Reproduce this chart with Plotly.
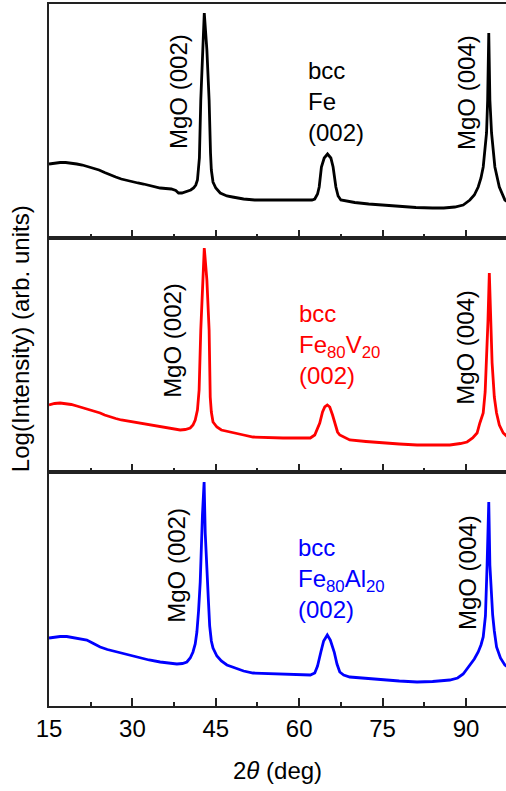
import plotly.graph_objects as go
from plotly.subplots import make_subplots

# 2theta scans (deg) and log-intensity (arb. units, offset per panel)
fe_2theta = [15.0, 16.0, 17.0, 18.0, 19.0, 20.0, 21.0, 22.0, 23.0, 24.0, 25.0, 26.0, 27.0, 28.0,
             29.0, 30.0, 31.0, 32.0, 33.0, 34.0, 35.0, 36.0, 37.0, 37.8, 38.3, 38.9, 39.5, 40.0,
             40.5, 41.0, 41.4, 41.7, 41.9, 42.05, 42.3, 42.7, 42.93, 43.4, 43.8, 44.05, 44.2,
             44.5, 45.0, 45.8, 47.0, 48.0, 50.0, 52.0, 55.0, 58.0, 61.0, 62.3, 62.8, 63.3, 63.6,
             64.0, 64.5, 65.1, 65.7, 66.1, 66.6, 67.0, 67.5, 68.5, 70.0, 72.5, 75.0, 78.0, 81.0,
             84.0, 86.0, 88.0, 89.5, 90.7, 91.5, 92.2, 92.7, 93.1, 93.45, 93.7, 93.9, 94.1, 94.3,
             94.6, 95.2, 96.0, 97.0, 97.5]
fe_int = [74, 75, 75.5, 75.5, 75, 74, 73, 71.5, 70, 68, 65.5, 63, 61, 59,
          57.5, 56, 55, 54, 52.5, 51, 50, 49.5, 49, 47.5, 45, 45, 46, 47,
          48, 50, 53, 58, 68, 80, 138, 188, 225, 188, 138, 85, 68,
          56, 50, 45, 42, 41, 39, 38, 38, 37.5, 38, 38, 39, 44, 51,
          71, 80, 84, 80, 71, 51, 42, 38, 37, 35.5, 34, 33, 31.5, 30.5,
          30, 30, 31, 33, 38, 43, 51, 60, 71, 90, 105, 138, 205, 138,
          105, 71, 51, 38, 36]

fev_2theta = [15.0, 16.0, 17.0, 18.0, 19.0, 20.0, 21.0, 22.0, 23.0, 24.2, 25.0, 26.0, 27.0,
              28.0, 29.0, 30.0, 31.4, 33.0, 35.0, 37.0, 38.6, 39.5, 40.4, 40.9, 41.3, 41.7,
              42.0, 42.3, 42.7, 42.93, 43.4, 43.8, 44.0, 44.2, 44.5, 45.2, 46.0, 48.1, 50.0,
              51.7, 54.0, 57.1, 60.0, 62.0, 62.8, 63.2, 63.7, 64.2, 64.6, 65.06, 65.5, 66.0,
              66.4, 66.9, 67.3, 68.0, 69.1, 72.0, 75.1, 78.0, 81.2, 84.0, 87.1, 89.0, 90.2,
              91.2, 92.0, 92.5, 93.1, 93.45, 93.7, 93.95, 94.2, 94.45, 94.7, 95.1, 95.5, 96.0,
              96.7, 97.5]
fev_int = [67, 68.5, 69, 68.5, 67.5, 66, 64.5, 62.5, 61, 59, 57, 55, 53.5,
           52, 51, 50, 49, 47.5, 45, 43.5, 42, 42.5, 44, 47, 52, 62,
           82, 142, 192, 224, 192, 142, 75, 60, 50, 45, 42, 39, 37,
           35, 34.5, 34, 34, 34, 37, 42, 49, 60, 65, 67, 65, 57,
           49, 40, 37, 35, 32, 30.5, 29, 28, 27, 27, 27, 28.5, 30,
           34, 39, 49, 59, 80, 109, 150, 199, 150, 109, 75, 59, 47,
           39, 35]

feal_2theta = [15.0, 16.0, 17.0, 18.2, 19.5, 20.5, 21.8, 23.0, 24.2, 25.5, 27.0, 27.8, 29.5,
               31.4, 33.0, 35.0, 36.5, 38.0, 39.0, 39.8, 40.4, 40.9, 41.3, 41.6, 41.9, 42.2,
               42.6, 42.9, 43.1, 43.4, 43.65, 43.9, 44.2, 44.5, 45.2, 46.0, 47.0, 48.5, 50.0,
               51.7, 54.0, 57.1, 60.0, 62.0, 62.8, 63.3, 63.9, 64.4, 65.06, 65.6, 66.3, 66.8,
               67.3, 68.0, 69.1, 72.0, 75.1, 78.0, 81.2, 84.0, 87.1, 88.5, 89.5, 90.7, 91.5,
               92.2, 92.7, 93.1, 93.5, 93.8, 94.1, 94.3, 94.55, 94.8, 95.1, 95.5, 96.2, 97.0,
               97.5]
feal_int = [68, 69, 69.5, 69.5, 68.5, 67.5, 66, 62.5, 59, 56.5, 54.5, 53, 50.5,
            48, 46, 44, 43, 42, 42.5, 44, 48, 54, 62, 74, 95, 124,
            191, 224, 173, 130, 108, 80, 65, 58, 50, 45, 41, 38, 35,
            33, 32.5, 32, 31.5, 31, 33, 40, 54, 65, 71, 66, 54, 42,
            34, 31, 29, 27.5, 26, 25, 24, 24.5, 26, 28, 32, 41, 47,
            54, 61, 69, 90, 141, 204, 141, 108, 91, 75, 59, 48, 41,
            39]

series = [
    (fe_2theta, fe_int, "#000000"),
    (fev_2theta, fev_int, "#ff0000"),
    (feal_2theta, feal_int, "#0000ff"),
]

FONT = "Liberation Sans, Arial, sans-serif"
AXIS = "#222222"

fig = make_subplots(rows=3, cols=1, shared_xaxes=True, vertical_spacing=0)

for i, (x, y, color) in enumerate(series, start=1):
    fig.add_trace(go.Scatter(x=x, y=y, mode="lines",
                             line=dict(color=color, width=2.8),
                             showlegend=False, hoverinfo="skip"),
                  row=i, col=1)
    fig.update_xaxes(range=[15, 97.2], showline=True, linecolor=AXIS, linewidth=2,
                     mirror=True, ticks="inside", ticklen=8, tickwidth=1.5,
                     tickcolor=AXIS, tick0=15, dtick=15,
                     minor=dict(ticks="inside", ticklen=4, tickwidth=1.5,
                                tickcolor=AXIS, dtick=7.5),
                     showgrid=False, zeroline=False,
                     showticklabels=(i == 3),
                     tickfont=dict(family=FONT, size=24, color="#000000"),
                     ticklabelstandoff=0,
                     row=i, col=1)
    fig.update_yaxes(range=[0, 234], showline=True, linecolor=AXIS, linewidth=2,
                     mirror=False, ticks="", showticklabels=False,
                     showgrid=False, zeroline=False, row=i, col=1)

black = "#000000"
ann = []

def peak_label(text, x, y, ref, color=black):
    ann.append(dict(text=text, x=x, y=y, xref="x" + ref, yref="y" + ref,
                    textangle=-90, showarrow=False,
                    font=dict(family=FONT, size=24, color=color),
                    xanchor="center", yanchor="middle"))

def phase_label(text, x, y, ref, color):
    ann.append(dict(text=text, x=x, y=y, xref="x" + ref, yref="y" + ref,
                    showarrow=False, align="left",
                    font=dict(family=FONT, size=24, color=color),
                    xanchor="left", yanchor="middle"))

# Panel 1: Fe
peak_label("MgO (002)", 38.2, 147, "")
peak_label("MgO (004)", 90.0, 146, "")
phase_label("bcc<br>Fe<br>(002)", 61.2, 137, "", black)
# Panel 2: Fe80V20
peak_label("MgO (002)", 37.1, 132, "2")
peak_label("MgO (004)", 89.8, 125, "2")
phase_label("bcc<br>Fe<sub>80</sub>V<sub>20</sub><br>(002)", 59.6, 128, "2", "#ff0000")
# Panel 3: Fe80Al20
peak_label("MgO (002)", 37.8, 141, "3")
peak_label("MgO (004)", 90.2, 133, "3")
phase_label("bcc<br>Fe<sub>80</sub>Al<sub>20</sub><br>(002)", 59.4, 128, "3", "#0000ff")

# Axis titles
ann.append(dict(text="2<i>θ</i> (deg)", x=0.5, y=-0.0912, xref="paper", yref="paper",
                showarrow=False, font=dict(family=FONT, size=24, color=black),
                xanchor="center", yanchor="middle"))
ann.append(dict(text="Log(Intensity) (arb. units)", x=-0.0635, y=0.524,
                xref="paper", yref="paper", textangle=-90, showarrow=False,
                font=dict(family=FONT, size=24, color=black),
                xanchor="center", yanchor="middle"))

fig.update_layout(width=506, height=791,
                  margin=dict(l=49, r=0, t=4, b=85),
                  paper_bgcolor="white", plot_bgcolor="white",
                  annotations=ann)

fig.write_html("out.html")
